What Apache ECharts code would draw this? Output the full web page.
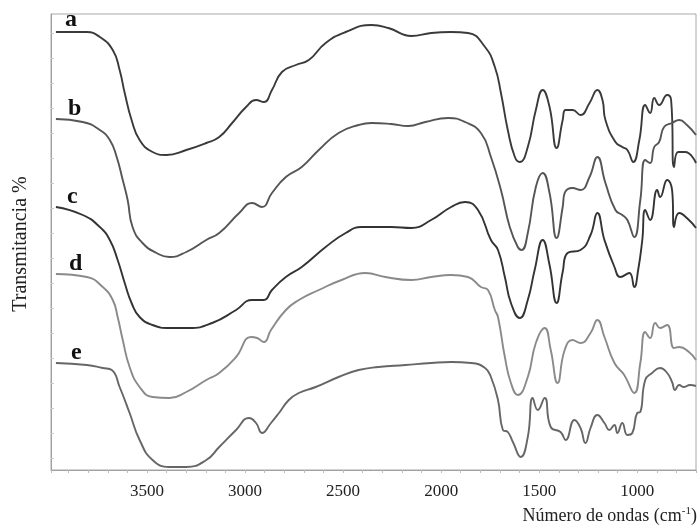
<!DOCTYPE html>
<html>
<head>
<meta charset="utf-8">
<script src="https://cdn.jsdelivr.net/npm/echarts@6/dist/echarts.min.js"></script>
<style>html,body{margin:0;padding:0;background:#fff}#c{width:699px;height:525px}</style>
</head>
<body>
<div id="c"></div>
<script>
// Wavenumber (cm-1) and transmittance (arbitrary offset units)
var curveA = [[3965,438],[3807,438],[3741,433],[3675,420],[3640,400],[3614,377],[3579,350],[3538,330],[3472,318],[3401,315],[3300,320],[3198,327],[3132,333],[3066,347],[2995,363],[2944,370],[2904,368],[2863,380],[2812,398],[2741,405],[2675,410],[2589,427],[2487,438],[2355,445],[2269,442],[2152,434],[2051,437],[1949,438],[1863,437],[1776,423],[1726,403],[1695,377],[1660,340],[1624,313],[1599,308],[1558,323],[1517,360],[1482,380],[1447,363],[1411,322],[1380,350],[1365,360],[1330,360],[1289,355],[1243,367],[1203,380],[1177,370],[1162,350],[1111,328],[1076,323],[1050,320],[1020,308],[989,330],[959,365],[934,357],[913,372],[888,365],[847,375],[827,370],[812,303],[791,318],[756,318],[700,307]];
var curveB = [[3965,351],[3828,348],[3741,340],[3690,330],[3655,313],[3624,290],[3599,270],[3574,243],[3523,227],[3452,217],[3386,213],[3300,218],[3198,230],[3132,237],[3030,257],[2964,267],[2914,263],[2863,277],[2792,293],[2711,303],[2624,320],[2523,337],[2421,345],[2355,347],[2254,346],[2167,344],[2081,348],[1964,352],[1878,348],[1797,337],[1746,313],[1695,280],[1650,243],[1609,223],[1589,220],[1558,237],[1517,283],[1482,297],[1447,277],[1411,232],[1380,263],[1370,277],[1330,282],[1289,280],[1243,293],[1203,313],[1162,287],[1111,260],[1076,255],[1050,250],[1015,233],[984,270],[959,310],[934,307],[913,323],[888,328],[863,343],[822,347],[786,350],[746,345],[700,335]];
var curveC = [[3965,263],[3828,255],[3741,243],[3690,230],[3650,210],[3614,187],[3579,167],[3538,153],[3472,145],[3386,142],[3284,142],[3168,147],[3046,160],[2964,170],[2904,170],[2863,180],[2792,193],[2711,203],[2589,223],[2487,237],[2406,243],[2254,243],[2152,242],[2051,250],[1949,263],[1878,268],[1812,260],[1746,230],[1710,220],[1675,193],[1644,167],[1599,152],[1558,170],[1523,200],[1482,230],[1447,205],[1411,167],[1380,198],[1355,217],[1289,220],[1238,235],[1203,257],[1167,230],[1116,203],[1086,193],[1040,197],[1015,183],[995,200],[974,230],[959,260],[934,250],[898,280],[883,273],[847,290],[822,280],[812,243],[786,257],[736,250],[700,242]];
var curveD = [[3965,196],[3807,193],[3726,183],[3675,170],[3650,153],[3624,130],[3589,103],[3538,83],[3472,73],[3386,72],[3300,78],[3198,90],[3132,97],[3046,113],[2970,133],[2939,132],[2904,128],[2868,140],[2792,160],[2726,170],[2624,180],[2508,190],[2386,197],[2284,193],[2152,190],[2051,193],[1949,195],[1863,193],[1797,183],[1761,180],[1726,160],[1710,153],[1675,113],[1644,87],[1609,75],[1558,93],[1517,127],[1472,142],[1441,120],[1406,87],[1370,120],[1330,130],[1289,127],[1238,137],[1203,150],[1167,133],[1116,107],[1066,95],[1015,77],[984,107],[959,138],[934,132],[908,147],[883,142],[847,145],[812,122],[786,123],[736,118],[700,110]];
var curveE = [[3965,107],[3807,105],[3726,102],[3680,100],[3640,83],[3589,57],[3538,30],[3472,10],[3386,3],[3300,3],[3198,10],[3132,23],[3046,40],[2980,52],[2944,47],[2914,37],[2868,47],[2827,57],[2777,70],[2726,77],[2640,83],[2523,93],[2421,100],[2320,103],[2183,105],[2051,107],[1949,108],[1847,107],[1776,102],[1746,93],[1710,70],[1685,40],[1660,38],[1634,28],[1594,13],[1558,33],[1533,72],[1507,60],[1472,72],[1441,43],[1391,38],[1365,30],[1320,50],[1289,42],[1264,27],[1238,42],[1203,55],[1167,47],[1142,40],[1116,45],[1101,37],[1076,47],[1050,35],[1025,37],[1000,57],[984,58],[959,90],[924,97],[883,102],[847,97],[822,88],[807,80],[786,85],[761,83],[731,85],[700,84]];
var curveNames = ['a','b','c','d','e'];
var curveColors = ['#3a3a3a','#555555','#333333','#8a8a8a','#666666'];
var xLabelsShown = [3500,3000,2500,2000,1500,1000];

var chart = echarts.init(document.getElementById('c'), null, {renderer:'canvas'});
var serif = '"Liberation Serif","Times New Roman",serif';
var all = [curveA, curveB, curveC, curveD, curveE];
var series = all.map(function(d,i){
  return {type:'line', name:curveNames[i], data:d, xAxisIndex:0, yAxisIndex:0,
    showSymbol:false, smooth:0.5, silent:true,
    lineStyle:{color:curveColors[i], width:1.9}};
});
var labelPos = [[65,32],[68,121],[67,209],[69,276],[71,365]];
var graphics = curveNames.map(function(n,i){
  return {type:'text', x:labelPos[i][0], y:labelPos[i][1],
    style:{text:n, font:'bold 24px '+serif, fill:'#111', textAlign:'left', textVerticalAlign:'bottom'}};
});
graphics.push({type:'text', x:21, y:244, rotation:Math.PI/2,
  style:{text:'Transmitancia %', font:'20px '+serif, fill:'#222', textAlign:'center', textVerticalAlign:'middle'}});
graphics.push({type:'text', x:697, y:516,
  style:{text:'{a|Número de ondas (cm}{s|-1}{a|)}', textAlign:'right', textVerticalAlign:'middle',
    rich:{a:{font:'18px '+serif, fill:'#222', color:'#222', fontSize:18, fontFamily:serif},
          s:{fontSize:11, fontFamily:serif, fill:'#222', color:'#222', verticalAlign:'top', padding:[0,0,9,0]}}}});

chart.setOption({
  animation:false,
  backgroundColor:'#fff',
  grid:[
    {left:51, right:-1, top:14, bottom:55, show:true, borderColor:'#a8a8a8', borderWidth:1, backgroundColor:'transparent'},
    {left:51, right:-1, top:33, bottom:67, show:false}
  ],
  xAxis:[
    {type:'value', gridIndex:0, inverse:true, min:700, max:3990, interval:100,
     axisLine:{show:true, lineStyle:{color:'#a0a0a0', width:1}},
     axisTick:{show:true, length:3, lineStyle:{color:'#bbbbbb'}},
     splitLine:{show:false},
     axisLabel:{margin:13, fontFamily:serif, fontSize:17, color:'#222',
       formatter:function(v){ return xLabelsShown.indexOf(v) >= 0 ? String(v) : ''; }}},
    {type:'value', gridIndex:1, show:false, min:0, max:1}
  ],
  yAxis:[
    {type:'value', gridIndex:0, min:0, max:456, interval:456,
     axisLine:{show:true, lineStyle:{color:'#a0a0a0'}}, axisTick:{show:false},
     axisLabel:{show:false}, splitLine:{show:false}},
    {type:'value', gridIndex:1, min:0, max:17, interval:1,
     axisLine:{show:false}, axisTick:{show:true, inside:true, length:3, lineStyle:{color:'#c8c8c8'}},
     axisLabel:{show:false}, splitLine:{show:false}}
  ],
  series:series,
  graphic:graphics
});
</script>
</body>
</html>
